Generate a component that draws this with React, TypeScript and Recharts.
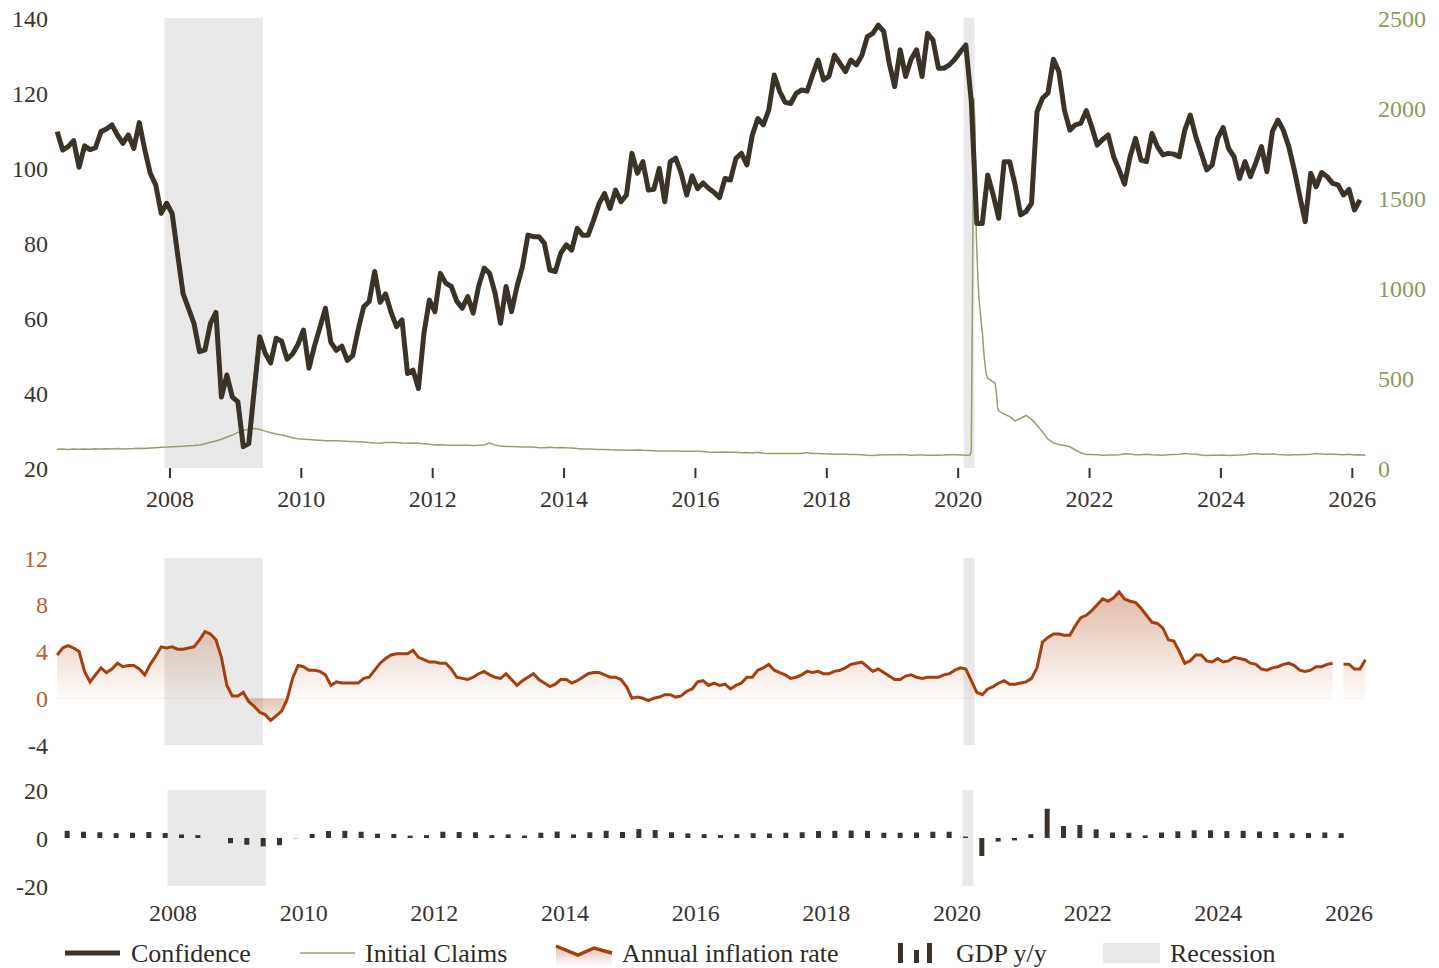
import React from "react";
import {
  ComposedChart,
  Line,
  Area,
  Bar,
  XAxis,
  YAxis,
  ReferenceArea,
  CartesianGrid,
} from "recharts";

const FONT = "'Liberation Serif', 'Times New Roman', serif";
const DARK = "#3c3328";
const TEXT = "#3a342e";
const GREEN = "#8fa36a";
const GREEN_TEXT = "#8a9a5b";
const RUST = "#a63f0e";
const RUST_TEXT = "#b4602e";
const GRAY = "#e9e9e9";

// monthly series start in April 2006
const confidence = [
  109.7, 104.8, 105.7, 107.3, 100.2, 105.9, 104.9, 105.4, 109.7,
  110.4, 111.5, 108.8, 106.6, 108.8, 105.2, 112.1, 104.9, 98.6, 95.5, 87.9, 90.6,
  87.9, 77.0, 66.5, 62.5, 58.5, 51.0, 51.5, 58.6, 61.5, 38.9, 44.8, 38.9,
  37.7, 25.7, 26.5, 40.8, 55.0, 50.6, 48.0, 54.6, 53.8, 49.0, 50.4, 53.0,
  56.8, 46.6, 52.5, 57.5, 62.6, 53.5, 51.4, 52.5, 48.7, 50.0, 57.0, 63.0,
  64.4, 72.4, 64.2, 66.4, 61.5, 57.7, 59.5, 45.2, 46.1, 41.2, 55.9, 64.8,
  61.7, 71.9, 69.3, 68.4, 64.5, 62.6, 65.7, 61.3, 68.5, 73.3, 71.9, 66.6,
  58.6, 68.4, 61.7, 68.4, 73.7, 82.1, 81.7, 81.7, 79.9, 72.8, 72.4, 77.3,
  79.5, 78.1, 83.9, 82.1, 82.1, 86.1, 90.5, 93.2, 89.2, 94.1, 91.0, 92.8,
  103.9, 98.6, 101.7, 94.1, 94.3, 99.9, 91.0, 101.7, 102.6, 98.6, 92.8, 97.9,
  94.5, 96.0, 94.6, 93.5, 92.1, 97.2, 96.8, 102.6, 103.9, 100.8, 108.8, 113.2,
  111.5, 115.5, 124.8, 120.4, 117.5, 117.2, 119.9, 120.8, 120.5, 124.8, 128.8, 123.5,
  124.5, 130.1, 127.9, 125.7, 128.8, 127.5, 130.0, 135.0, 135.9, 138.1, 136.4, 128.0,
  121.7, 131.5, 124.4, 129.0, 131.5, 124.4, 135.9, 134.1, 126.6, 126.6, 127.5, 129.0,
  131.0, 132.8, 117.7, 85.2, 85.2, 98.1, 92.8, 86.6, 101.7, 101.7, 95.5, 87.5,
  88.4, 90.6, 115.0, 118.6, 120.0, 129.0, 125.7, 115.5, 110.1, 111.5, 111.9, 115.3,
  111.0, 106.1, 107.6, 108.8, 103.0, 99.5, 95.7, 103.0, 107.9, 102.1, 101.7, 109.2,
  105.7, 103.5, 103.9, 103.7, 103.0, 110.1, 114.1, 108.4, 104.0, 99.5, 100.8, 107.9,
  110.8, 105.2, 103.0, 97.2, 101.7, 97.7, 101.5, 105.7, 99.0, 109.7, 112.8, 110.1,
  105.7, 99.5, 92.5, 85.7, 98.6, 95.0, 98.8, 97.7, 95.9, 95.5, 92.8, 94.3,
  88.8, 91.5,
];

// Apr 2006 - Feb 2020, monthly
const claimsBefore = [
  104, 106, 103, 105, 104, 106, 104, 107, 106,
  107, 106, 108, 106, 107, 108, 110, 109, 111, 113, 115, 116,
  118, 120, 121, 123, 125, 128, 135, 143, 150, 160, 172, 183,
  198, 208, 216, 220, 214, 205, 196, 189, 183, 176, 168, 162,
  160, 158, 156, 154, 152, 151, 152, 150, 148, 147, 146, 144,
  141, 139, 138, 141, 142, 141, 139, 138, 139, 137, 135, 132,
  128, 129, 128, 127, 126, 127, 126, 125, 126, 128, 138, 127,
  122, 120, 119, 118, 117, 116, 116, 113, 112, 115, 112, 114,
  112, 111, 108, 106, 105, 104, 103, 103, 101, 100, 100, 99,
  99, 100, 98, 97, 96, 95, 95, 94, 94, 93, 93, 93,
  93, 92, 89, 88, 88, 89, 88, 87, 85, 86, 84, 87,
  82, 80, 81, 80, 80, 80, 81, 80, 86, 80, 80, 79,
  78, 76, 76, 76, 75, 75, 73, 71, 70, 72, 73, 73,
  74, 75, 73, 71, 72, 72, 71, 71, 71, 72, 74, 73,
  72, 71,
];

// weekly, 7 Mar 2020 - 15 Aug 2020
const claimsWeekly2020 = [
  72, 95, 1000, 2055, 1900, 1300, 1100, 950, 880, 800, 740, 640,
  570, 520, 500, 495, 490, 485, 480, 478, 470, 420, 330, 315,
];

// Sep 2020 - Mar 2026, monthly
const claimsAfter = [
  300, 285, 262, 275,
  292, 270, 238, 200, 160, 140, 130, 125, 118, 100, 85, 75,
  75, 73, 71, 72, 72, 74, 79, 78, 74, 73, 76, 73,
  72, 71, 73, 75, 76, 80, 78, 77, 72, 70, 71, 71,
  72, 70, 71, 72, 74, 78, 80, 77, 76, 78, 75, 73,
  72, 73, 74, 75, 76, 81, 78, 77, 76, 75, 73, 76,
  72, 73, 71,
];

// Apr 2006 - Mar 2026, monthly (Oct 2025 missing)
const inflation = [
  3.7, 4.3, 4.5, 4.3, 4.0, 2.3, 1.4, 2.0, 2.6,
  2.2, 2.5, 3.0, 2.7, 2.8, 2.8, 2.5, 2.0, 2.9, 3.6, 4.4, 4.3,
  4.4, 4.2, 4.2, 4.3, 4.4, 5.0, 5.7, 5.5, 5.0, 3.5, 1.1, 0.2,
  0.2, 0.5, -0.3, -0.7, -1.2, -1.4, -1.9, -1.5, -1.1, -0.1, 1.7, 2.8,
  2.7, 2.4, 2.4, 2.3, 2.0, 1.1, 1.4, 1.3, 1.3, 1.3, 1.3, 1.7,
  1.8, 2.4, 3.0, 3.4, 3.7, 3.8, 3.8, 3.8, 4.1, 3.5, 3.3, 3.1,
  3.1, 3.0, 3.0, 2.5, 1.8, 1.7, 1.6, 1.8, 2.1, 2.3, 2.0, 1.8,
  1.7, 2.1, 1.6, 1.1, 1.5, 1.8, 2.1, 1.6, 1.3, 1.0, 1.2, 1.6,
  1.6, 1.3, 1.5, 1.8, 2.1, 2.2, 2.2, 2.0, 1.8, 1.8, 1.6, 1.0,
  0.0, 0.1, 0.0, -0.2, 0.0, 0.1, 0.3, 0.3, 0.1, 0.2, 0.6, 0.8,
  1.4, 1.5, 1.1, 1.3, 1.1, 1.2, 0.8, 1.1, 1.3, 1.8, 1.8, 2.4,
  2.6, 2.9, 2.4, 2.2, 2.0, 1.7, 1.8, 2.0, 2.3, 2.2, 2.3, 2.1,
  2.1, 2.3, 2.4, 2.6, 2.9, 3.0, 3.1, 2.7, 2.3, 2.5, 2.2, 1.9,
  1.6, 1.6, 1.9, 2.0, 1.8, 1.7, 1.8, 1.8, 1.8, 2.0, 2.1, 2.4,
  2.6, 2.5, 1.5, 0.5, 0.3, 0.8, 1.0, 1.3, 1.5, 1.2, 1.2, 1.3,
  1.4, 1.7, 2.6, 4.8, 5.2, 5.5, 5.5, 5.4, 5.4, 6.2, 6.9, 7.1,
  7.5, 8.0, 8.5, 8.3, 8.6, 9.1, 8.5, 8.3, 8.2, 7.7, 7.1, 6.5,
  6.4, 6.0, 5.0, 4.9, 4.0, 3.0, 3.2, 3.7, 3.7, 3.2, 3.1, 3.4,
  3.1, 3.2, 3.5, 3.4, 3.3, 3.0, 2.9, 2.5, 2.4, 2.6, 2.7, 2.9,
  3.0, 2.8, 2.4, 2.3, 2.4, 2.7, 2.7, 2.9, 3.0, null, 2.9, 2.9,
  2.5, 2.5, 3.3,
];

// quarterly, 2006 Q2 - 2025 Q4
const gdp = [
  3.0, 2.6, 2.4,
  2.0, 2.2, 2.5, 2.1,
  1.5, 1.2, 0.0, -2.2,
  -2.8, -3.5, -3.0, -0.1,
  1.7, 2.9, 3.0, 2.6,
  1.8, 1.7, 1.0, 1.2,
  2.6, 2.5, 2.4, 1.2,
  1.5, 1.0, 2.2, 2.7,
  1.5, 2.4, 3.0, 2.5,
  3.7, 3.3, 2.4, 1.9,
  1.6, 1.2, 1.6, 2.0,
  1.9, 2.2, 2.4, 2.9,
  3.0, 3.1, 3.0, 2.2,
  2.2, 2.3, 2.6, 2.6,
  0.6, -7.5, -1.5, -1.0,
  1.6, 12.2, 5.0, 5.4,
  3.6, 2.3, 2.2, 1.1,
  2.3, 2.8, 3.2, 3.2,
  2.9, 3.0, 2.7, 2.5,
  2.0, 2.1, 2.3, 2.0,
];

const years = [2008, 2010, 2012, 2014, 2016, 2018, 2020, 2022, 2024, 2026];
const recessionStart = [2007.917, 2020.083];
const recessionEnd = [2009.417, 2020.25];

const monthT = (m: number) => 2006.25 + (m + 0.4) / 12;

const topRows = [
  ...confidence.map((v, m) => ({ t: monthT(m), conf: v })),
  ...claimsBefore.map((v, m) => ({ t: monthT(m), claims: v })),
  ...claimsWeekly2020.map((v, i) => ({ t: 2020.18 + (i * 7) / 366, claims: v })),
  ...claimsAfter.map((v, i) => ({ t: monthT(173 + i), claims: v })),
].sort((a, b) => a.t - b.t);

const inflRows = inflation.map((v, m) => ({ t: monthT(m), infl: v }));
const gdpRows = gdp.map((v, i) => ({ t: 2006.375 + i * 0.25, gdp: v }));

const TOP_DOMAIN = [2006.25, 2026.3];
const BOTTOM_DOMAIN = [2006.194, 2026.352];

// middle panel geometry, used for the fill gradient
const MID_TOP = 40;
const MID_H = 187;
const midY = (v: number) => MID_TOP + ((12 - v) / 16) * MID_H;

const tickStyle = { fontSize: 24, fontFamily: FONT, fill: TEXT };

function InflTick(props: any) {
  const { x, y, payload } = props;
  return (
    <text
      x={x}
      y={y}
      dy="0.355em"
      textAnchor="end"
      fontSize={24}
      fontFamily={FONT}
      fill={payload.value < 0 ? TEXT : RUST_TEXT}
    >
      {payload.value}
    </text>
  );
}

function recessionAreas(y1: number, y2: number, yAxisId?: string) {
  return recessionStart.map((s, i) => (
    <ReferenceArea
      key={"rec" + i}
      yAxisId={yAxisId}
      x1={s}
      x2={recessionEnd[i]}
      y1={y1}
      y2={y2}
      fill={GRAY}
      fillOpacity={1}
      stroke="none"
      ifOverflow="hidden"
    />
  ));
}

function Legend() {
  const txt = { fontSize: 26, fontFamily: FONT, fill: "#2e2a26" };
  return (
    <svg width={1439} height={42} style={{ position: "absolute", left: 0, top: 926 }}>
      <defs>
        <linearGradient id="legFill" x1="0" y1="0" x2="0" y2="1">
          <stop offset="0%" stopColor={RUST} stopOpacity={0.35} />
          <stop offset="100%" stopColor={RUST} stopOpacity={0} />
        </linearGradient>
      </defs>
      <line x1={65} y1={27} x2={120} y2={27} stroke={DARK} strokeWidth={5} />
      <text x={131} y={36} {...txt}>Confidence</text>
      <line x1={300} y1={27} x2={355} y2={27} stroke={GREEN} strokeWidth={1.5} />
      <text x={365} y={36} {...txt}>Initial Claims</text>
      <polygon points="556,20 578,29 594,22 612,27 612,40 556,40" fill="url(#legFill)" />
      <polyline points="556,20 578,29 594,22 612,27" fill="none" stroke={RUST} strokeWidth={3.5} />
      <text x={622} y={36} {...txt}>Annual inflation rate</text>
      <rect x={898} y={17} width={5} height={20} fill={DARK} />
      <rect x={914} y={24} width={5} height={13} fill={DARK} />
      <rect x={927} y={17} width={5} height={20} fill={DARK} />
      <text x={956} y={36} {...txt}>GDP y/y</text>
      <rect x={1103} y={17} width={57} height={20} fill={GRAY} />
      <text x={1170} y={36} {...txt}>Recession</text>
    </svg>
  );
}

export default function App() {
  return (
    <div
      style={{
        position: "absolute",
        left: 0,
        top: 0,
        width: 1439,
        height: 968,
        background: "#fff",
        overflow: "hidden",
      }}
    >
      <div style={{ position: "absolute", left: 0, top: 0 }}>
        <ComposedChart
          width={1439}
          height={518}
          data={topRows}
          margin={{ top: 18, right: 0, bottom: 0, left: 0 }}
        >
          {recessionAreas(20, 140, "left")}
          <CartesianGrid vertical={false} stroke="#ffffff" strokeDasharray="2 3" yAxisId="left" />
          <XAxis
            dataKey="t"
            type="number"
            domain={TOP_DOMAIN}
            ticks={years}
            allowDataOverflow
            axisLine={false}
            tickLine={{ stroke: DARK, strokeWidth: 2 }}
            tickSize={10}
            tickMargin={12}
            height={50}
            tick={tickStyle}
          />
          <YAxis
            yAxisId="left"
            domain={[20, 140]}
            ticks={[20, 40, 60, 80, 100, 120, 140]}
            width={55}
            axisLine={false}
            tickLine={false}
            tickMargin={1}
            tick={tickStyle}
          />
          <YAxis
            yAxisId="right"
            orientation="right"
            domain={[0, 2500]}
            ticks={[0, 500, 1000, 1500, 2000, 2500]}
            width={67}
            axisLine={false}
            tickLine={false}
            tickMargin={0}
            tick={{ ...tickStyle, fill: GREEN_TEXT }}
          />
          <Line
            yAxisId="right"
            type="linear"
            dataKey="claims"
            stroke={GREEN}
            strokeWidth={1.5}
            dot={false}
            connectNulls
            isAnimationActive={false}
          />
          <Line
            yAxisId="left"
            type="linear"
            dataKey="conf"
            stroke={DARK}
            strokeWidth={5}
            strokeLinejoin="round"
            dot={false}
            connectNulls
            isAnimationActive={false}
          />
        </ComposedChart>
      </div>

      <div style={{ position: "absolute", left: 0, top: 518 }}>
        <ComposedChart
          width={1439}
          height={242}
          data={inflRows}
          margin={{ top: MID_TOP, right: 67, bottom: 242 - MID_TOP - MID_H, left: 0 }}
        >
          <defs>
            <linearGradient
              id="inflFill"
              gradientUnits="userSpaceOnUse"
              x1="0"
              y1={midY(10)}
              x2="0"
              y2={midY(-2)}
            >
              <stop offset="0" stopColor="#b4572a" stopOpacity={0.45} />
              <stop offset="0.83" stopColor="#b4572a" stopOpacity={0.02} />
              <stop offset="0.835" stopColor="#b4572a" stopOpacity={0.35} />
              <stop offset="1" stopColor="#b4572a" stopOpacity={0.1} />
            </linearGradient>
          </defs>
          {recessionAreas(-4, 12)}
          <CartesianGrid vertical={false} stroke="#ffffff" strokeDasharray="2 3" />
          <XAxis dataKey="t" type="number" domain={TOP_DOMAIN} allowDataOverflow hide />
          <YAxis
            domain={[-4, 12]}
            ticks={[-4, 0, 4, 8, 12]}
            width={55}
            axisLine={false}
            tickLine={false}
            tickMargin={1}
            tick={<InflTick />}
          />
          <Area
            type="linear"
            dataKey="infl"
            baseValue={0}
            stroke={RUST}
            strokeWidth={3}
            fill="url(#inflFill)"
            fillOpacity={1}
            dot={false}
            activeDot={false}
            isAnimationActive={false}
          />
        </ComposedChart>
      </div>

      <div style={{ position: "absolute", left: 0, top: 760 }}>
        <ComposedChart
          width={1439}
          height={166}
          data={gdpRows}
          margin={{ top: 30, right: 67, bottom: 0, left: 0 }}
        >
          {recessionAreas(-20, 20)}
          <XAxis
            dataKey="t"
            type="number"
            domain={BOTTOM_DOMAIN}
            ticks={years}
            allowDataOverflow
            axisLine={false}
            tickLine={false}
            tickMargin={12}
            height={40}
            tick={tickStyle}
          />
          <YAxis
            domain={[-20, 20]}
            ticks={[-20, 0, 20]}
            width={55}
            axisLine={false}
            tickLine={false}
            tickMargin={1}
            tick={tickStyle}
          />
          <Bar dataKey="gdp" fill={DARK} barSize={5} isAnimationActive={false} />
        </ComposedChart>
      </div>

      <Legend />
    </div>
  );
}
